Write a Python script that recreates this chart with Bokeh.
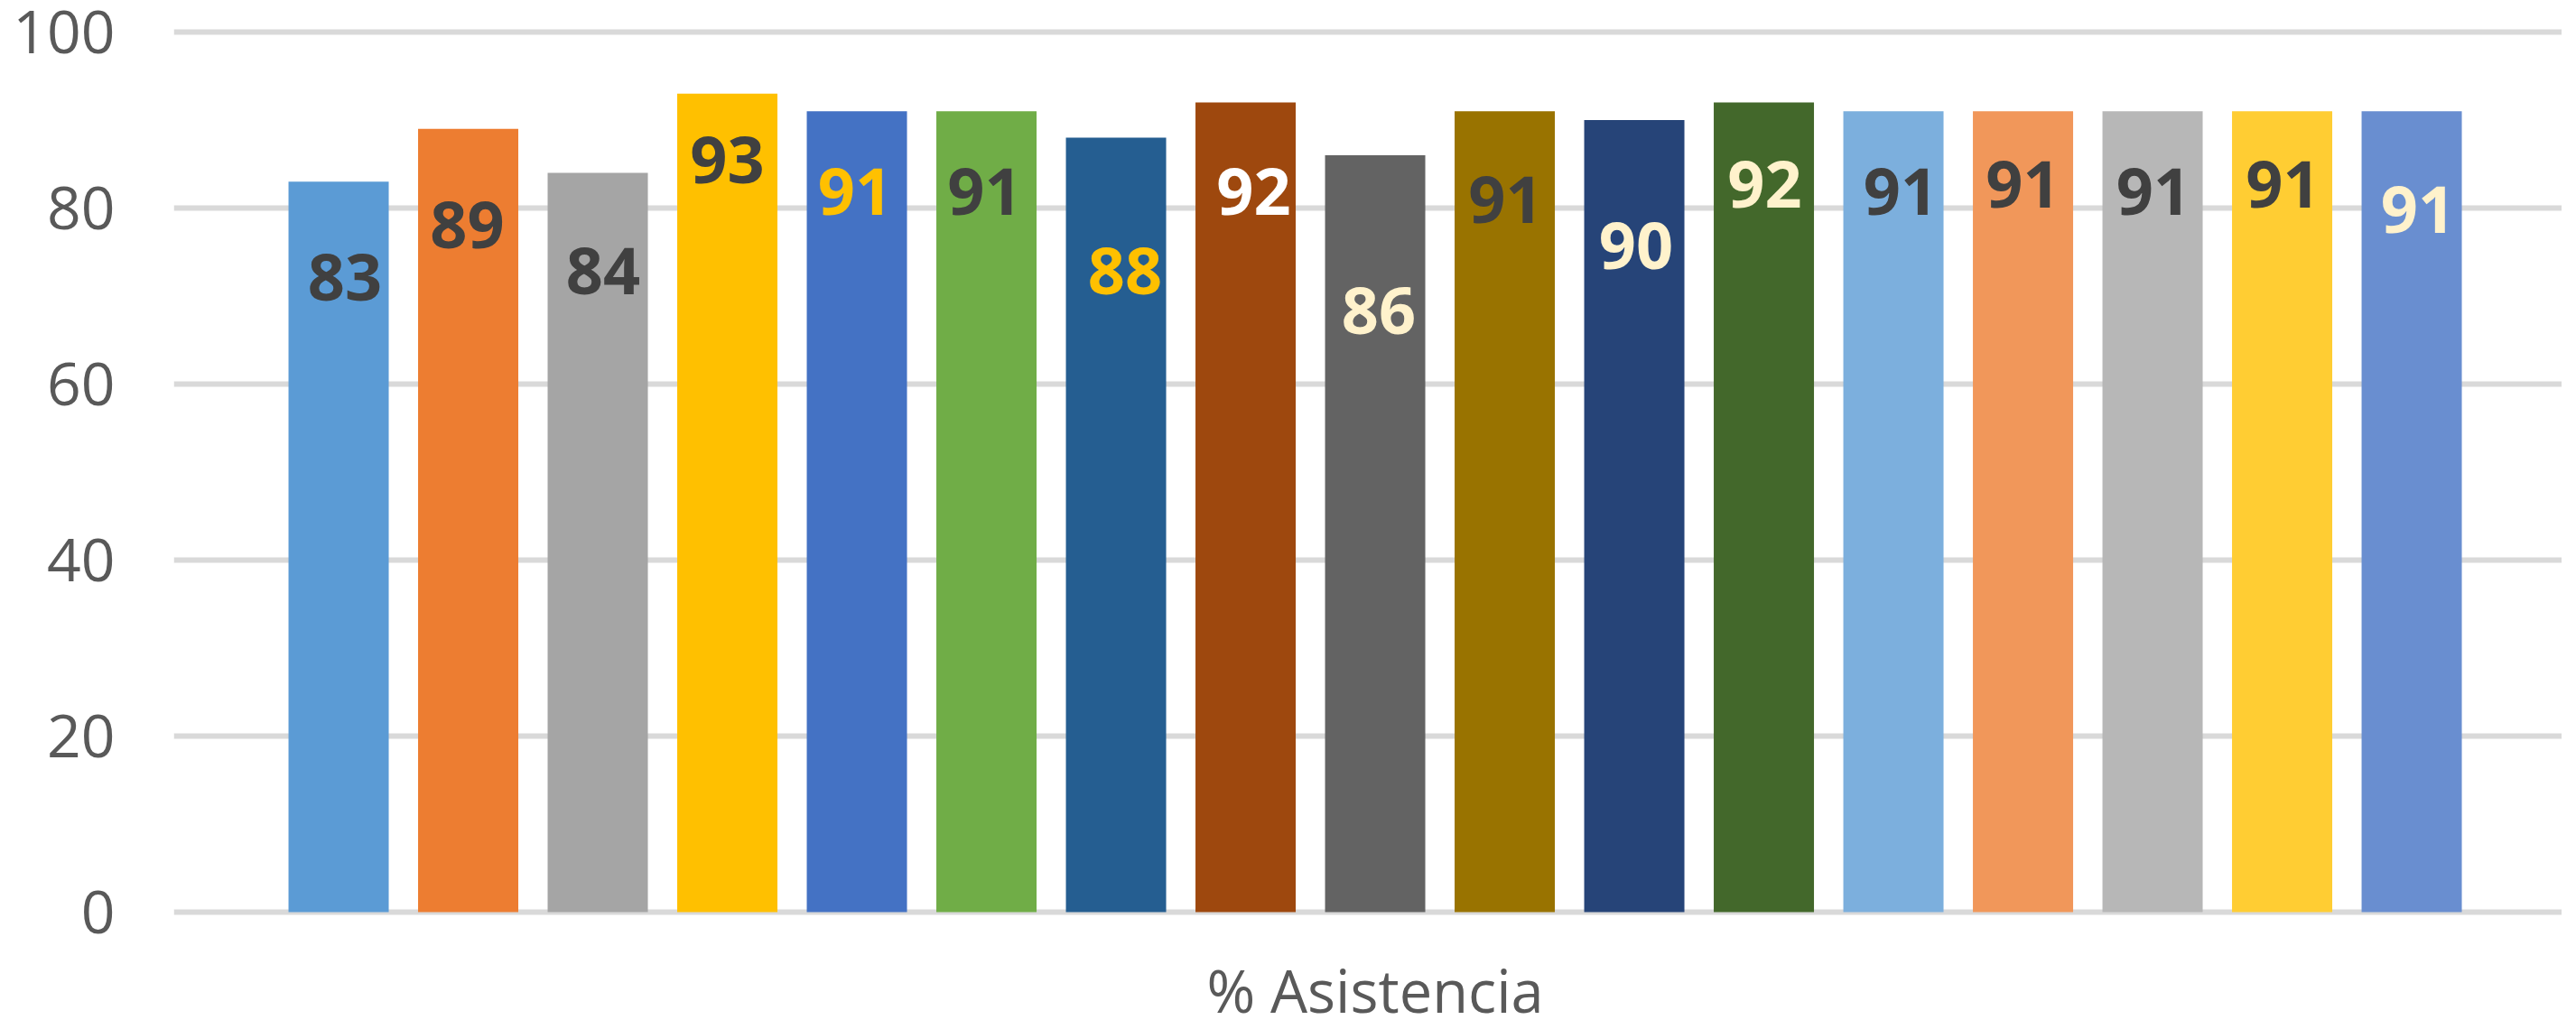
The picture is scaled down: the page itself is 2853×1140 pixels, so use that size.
from bokeh.plotting import figure
from bokeh.models import ColumnDataSource, Range1d, FixedTicker
from bokeh.core.properties import value
from bokeh.embed import file_html
from bokeh.resources import INLINE

# ---- data ----
values = [83, 89, 84, 93, 91, 91, 88, 92, 86, 91, 90, 92, 91, 91, 91, 91, 91]
bar_colors = ["#5B9BD5", "#ED7D31", "#A5A5A5", "#FFC000", "#4472C4", "#70AD47",
              "#255E91", "#9E480E", "#636363", "#997300", "#264478", "#43682B",
              "#7CAFDD", "#F1975A", "#B7B7B7", "#FFCD33", "#698ED0"]
label_colors = ["#404040", "#404040", "#404040", "#404040", "#FFC000", "#404040",
                "#FFC000", "#FFFFFF", "#FFF2CC", "#404040", "#FFF2CC", "#FFF2CC",
                "#404040", "#404040", "#404040", "#404040", "#FFF2CC"]
y_ticks = [0, 20, 40, 60, 80, 100]
axis_title = "% Asistencia"

# label placement (styling: screen px of the label centre below the bar top,
# and horizontal shift from the bar centre)
label_dy = [106, 106, 108, 73, 89, 89, 147, 99, 172, 98, 139, 91, 89, 81, 89, 81, 109]
label_dx = [7, -1, 6, 0, -2, -2, 10, 9, 4, 1, 2, 1, 8, 0, 1, 1, 7]

xs = list(range(len(values)))
src = ColumnDataSource(dict(
    x=xs, top=values, color=bar_colors,
    label=[str(v) for v in values], lcolor=label_colors,
    dy=label_dy, dx=label_dx,
))

# the frame reaches the bottom edge so the category title can sit inside it
p = figure(width=2837, height=1124, output_backend="svg", toolbar_location=None,
           x_range=Range1d(-1.272, 17.160), y_range=Range1d(-11.69, 100.41),
           min_border_left=192, min_border_right=0, min_border_top=31,
           min_border_bottom=0)
p.outline_line_color = None
p.background_fill_color = "white"
p.border_fill_color = "white"

p.vbar(x="x", top="top", bottom=0, width=0.7735, fill_color="color",
       line_color=None, source=src)

p.text(x="x", y="top", text="label", source=src, x_offset="dx", y_offset="dy",
       text_color="lcolor", text_font=value("Open Sans"), text_font_style="bold",
       text_font_size="72px", text_align="center", text_baseline="middle")

# category-axis title, centred under the bars
p.text(x=[(len(values) - 1) / 2], y=[0], y_offset=[86], text=[axis_title],
       text_color="#595959", text_font=value("Open Sans"), text_font_size="65px",
       text_align="center", text_baseline="middle")

# y axis
p.yaxis.ticker = FixedTicker(ticks=y_ticks)
p.yaxis.axis_line_color = None
p.yaxis.major_tick_line_color = None
p.yaxis.minor_tick_line_color = None
p.yaxis.major_tick_in = 0
p.yaxis.major_tick_out = 0
p.yaxis.major_label_standoff = 65
p.yaxis.major_label_text_font = "Open Sans"
p.yaxis.major_label_text_font_size = "66px"
p.yaxis.major_label_text_color = "#595959"

p.xaxis.visible = False

p.xgrid.grid_line_color = None
p.ygrid.ticker = FixedTicker(ticks=y_ticks)
p.ygrid.grid_line_color = "#D9D9D9"
p.ygrid.grid_line_width = 6

open("out.html", "w").write(file_html(p, INLINE))
